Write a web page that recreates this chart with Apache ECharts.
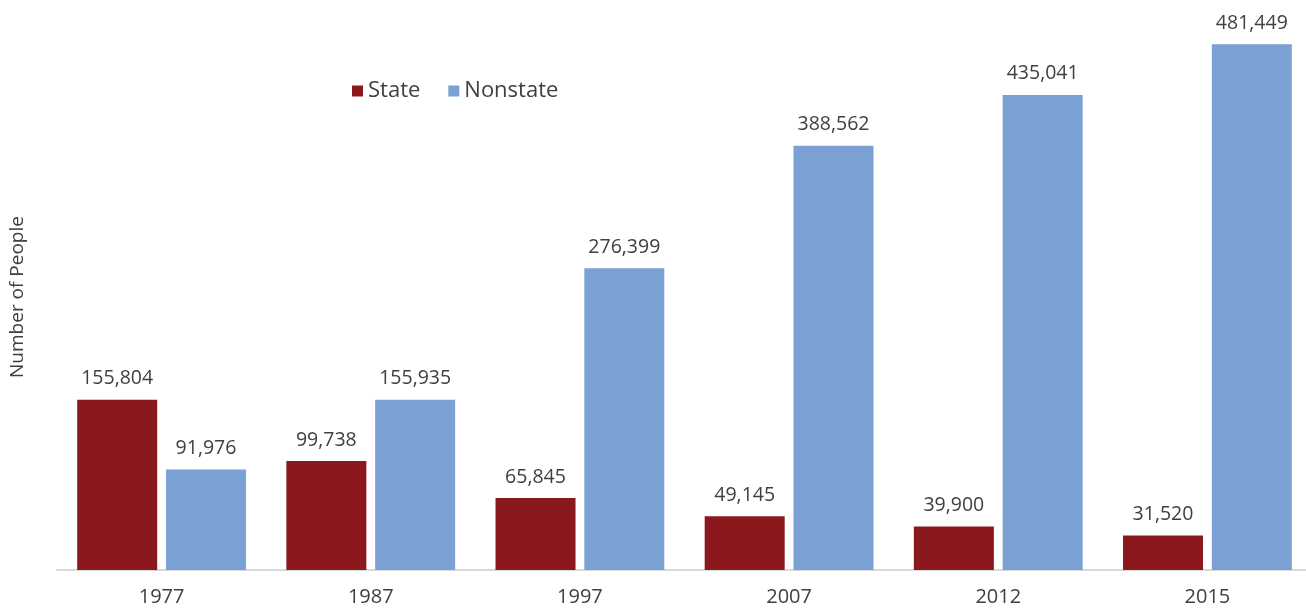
<!DOCTYPE html>
<html>
<head>
<meta charset="utf-8">
<script src="https://cdn.jsdelivr.net/npm/echarts@6/dist/echarts.min.js"></script>
<style>
  html, body { margin: 0; padding: 0; background: #fff; overflow: hidden; }
  #myChart { width: 1312px; height: 610px; }
</style>
</head>
<body>
<div id="myChart"></div>
<script>
var years = ["1977", "1987", "1997", "2007", "2012", "2015"];
var stateValues = [155804, 99738, 65845, 49145, 39900, 31520];
var nonstateValues = [91976, 155935, 276399, 388562, 435041, 481449];

var myChart = echarts.init(document.getElementById("myChart"));
var labelStyle = {
  show: true,
  position: "top",
  distance: 11,
  color: "#404040",
  fontSize: 19.5,
  fontFamily: "Open Sans",
  formatter: function (p) {
    return p.value.toLocaleString("en-US");
  }
};
var option = {
  animation: false,
  color: ["#8B181D", "#7BA1D4"],
  legend: {
    data: ["State", "Nonstate"],
    left: 347,
    top: 75,
    itemWidth: 11,
    itemHeight: 11,
    itemGap: 28,
    icon: "rect",
    textStyle: { color: "#404040", fontSize: 22, fontFamily: "Open Sans" }
  },
  grid: { left: 57, top: 24, bottom: 40, right: 0 },
  xAxis: {
    type: "category",
    data: years,
    axisLine: { lineStyle: { color: "#d9d9d9", width: 2 } },
    axisTick: { show: false },
    axisLabel: { color: "#404040", fontSize: 20, fontFamily: "Open Sans", margin: 17 }
  },
  yAxis: {
    type: "value",
    min: 0,
    max: 500000,
    name: "Number of People",
    nameLocation: "middle",
    nameGap: 30,
    nameTextStyle: { color: "#404040", fontSize: 19, fontFamily: "Open Sans" },
    axisLine: { show: false },
    axisTick: { show: false },
    axisLabel: { show: false },
    splitLine: { show: false }
  },
  series: [
    { name: "State", type: "bar", barWidth: 80, barGap: "11%", data: stateValues, label: labelStyle },
    { name: "Nonstate", type: "bar", barWidth: 80, barGap: "11%", data: nonstateValues, label: labelStyle }
  ]
};
myChart.setOption(option);
</script>
</body>
</html>
